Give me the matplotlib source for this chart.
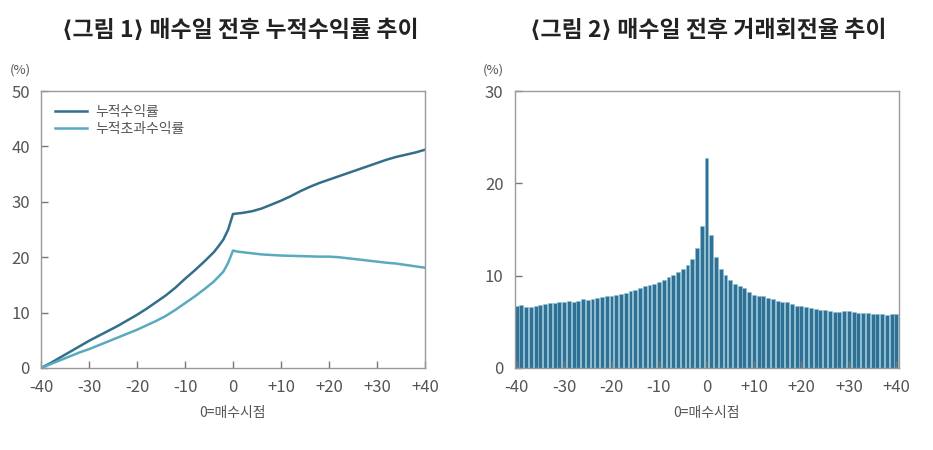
import numpy as np
import matplotlib
matplotlib.use('Agg')
import matplotlib.pyplot as plt

plt.rcParams['font.family'] = ['Noto Sans CJK KR', 'DejaVu Sans']

# 그림 1: 매수일 전후 누적수익률 (일)
days_line = [-40, -38, -36, -34, -32, -30, -28, -26, -24, -22, -20, -18, -16, -14, -12, -10,
             -8, -6, -4, -3, -2, -1, 0, 1, 2, 4, 6, 8, 10, 12, 14, 16, 18, 20,
             22, 24, 26, 28, 30, 32, 34, 36, 38, 40]
cum_return = [0.0, 0.9, 1.9, 2.9, 3.9, 4.9, 5.8, 6.7, 7.6, 8.6, 9.6, 10.7, 11.9, 13.1, 14.5, 16.1,
              17.6, 19.2, 20.9, 22.0, 23.2, 25.0, 27.8, 27.9, 28.0, 28.3, 28.8, 29.5, 30.2, 31.0, 31.9, 32.7, 33.4, 34.0,
              34.6, 35.2, 35.8, 36.4, 37.0, 37.6, 38.1, 38.5, 38.9, 39.4]
cum_excess = [0.0, 0.7, 1.4, 2.1, 2.8, 3.4, 4.1, 4.8, 5.5, 6.2, 6.9, 7.7, 8.5, 9.4, 10.5, 11.7,
              12.9, 14.2, 15.6, 16.5, 17.4, 19.0, 21.2, 21.0, 20.9, 20.7, 20.5, 20.4, 20.3, 20.25, 20.2, 20.15, 20.1, 20.1,
              20.0, 19.8, 19.6, 19.4, 19.2, 19.0, 18.85, 18.6, 18.35, 18.1]

# 그림 2: 매수일 전후 거래회전율 (-40 ~ +40)
days_bar = list(range(-40, 41))
turnover = [6.75, 6.78, 6.58, 6.58, 6.67, 6.85, 6.96, 7.05, 7.07, 7.14, 7.2, 7.22, 7.17, 7.28, 7.43, 7.39,
            7.46, 7.57, 7.7, 7.75, 7.8, 7.92, 8.04, 8.15, 8.3, 8.48, 8.62, 8.84, 9.0, 9.05, 9.3,
            9.55, 9.9, 10.1, 10.35, 10.7, 11.15, 11.8, 13.0, 15.36,
            22.7,
            14.42, 12.0, 10.7, 10.07, 9.57, 9.13, 8.84, 8.62, 8.19, 7.93, 7.83, 7.79, 7.6, 7.46, 7.25,
            7.17, 7.14, 6.92, 6.7, 6.67, 6.56, 6.49, 6.38, 6.3, 6.27, 6.16, 6.09, 6.09, 6.16, 6.12,
            6.05, 5.98, 5.94, 5.94, 5.9, 5.83, 5.8, 5.72, 5.87, 5.9]

xticks = [-40, -30, -20, -10, 0, 10, 20, 30, 40]
xticklabels = ['-40', '-30', '-20', '-10', '0', '+10', '+20', '+30', '+40']

dark = '#336f8a'
light = '#5aaabf'
bar_color = '#2e7195'
text_gray = '#555555'
spine_gray = '#999999'

fig = plt.figure(figsize=(9.33, 4.5), dpi=100)
ax1 = fig.add_axes([41 / 933, 82 / 450, 384 / 933, 277 / 450])
ax2 = fig.add_axes([514.7 / 933, 82 / 450, 384 / 933, 277 / 450])


def style_axis(ax):
    for s in ax.spines.values():
        s.set_color(spine_gray)
        s.set_linewidth(1.0)
    ax.tick_params(direction='in', length=5, width=1, color='#777777',
                   labelcolor=text_gray, labelsize=12, pad=8)
    ax.set_xticks(xticks)
    ax.set_xticklabels(xticklabels, fontweight='light')
    ax.set_xlabel('0=매수시점', fontsize=10, color=text_gray, labelpad=7)


# 왼쪽 차트
ax1.plot(days_line, cum_return, color=dark, lw=1.8, label='누적수익률')
ax1.plot(days_line, cum_excess, color=light, lw=1.8, label='누적초과수익률')
ax1.set_xlim(-40, 40)
ax1.set_ylim(0, 50)
ax1.set_yticks([0, 10, 20, 30, 40, 50])
ax1.set_yticklabels(['0', '10', '20', '30', '40', '50'], fontweight='light')
style_axis(ax1)
ax1.legend(loc='upper left', frameon=False, fontsize=10, handlelength=2.3,
           handletextpad=0.6, labelspacing=0.25, bbox_to_anchor=(0.005, 0.995),
           labelcolor=text_gray)
ax1.text(-0.055, 1.075, '(%)', transform=ax1.transAxes, fontsize=9.5, color=text_gray,
         ha='center', va='center')

# 오른쪽 차트
ax2.bar(days_bar, turnover, width=0.82, color=bar_color, edgecolor='#8cc0d6', linewidth=0.4)
ax2.set_xlim(-40.4, 40.5)
ax2.set_ylim(0, 30)
ax2.set_yticks([0, 10, 20, 30])
ax2.set_yticklabels(['0', '10', '20', '30'], fontweight='light')
style_axis(ax2)
ax2.text(-0.055, 1.075, '(%)', transform=ax2.transAxes, fontsize=9.5, color=text_gray,
         ha='center', va='center')

fig.text(240 / 933, 1 - 30 / 450, '⟨그림 1⟩ 매수일 전후 누적수익률 추이', fontsize=16.5,
         fontweight='bold', ha='center', va='center', color='#222222')
fig.text(708 / 933, 1 - 30 / 450, '⟨그림 2⟩ 매수일 전후 거래회전율 추이', fontsize=16.5,
         fontweight='bold', ha='center', va='center', color='#222222')

fig.savefig('out.png', dpi=100)
